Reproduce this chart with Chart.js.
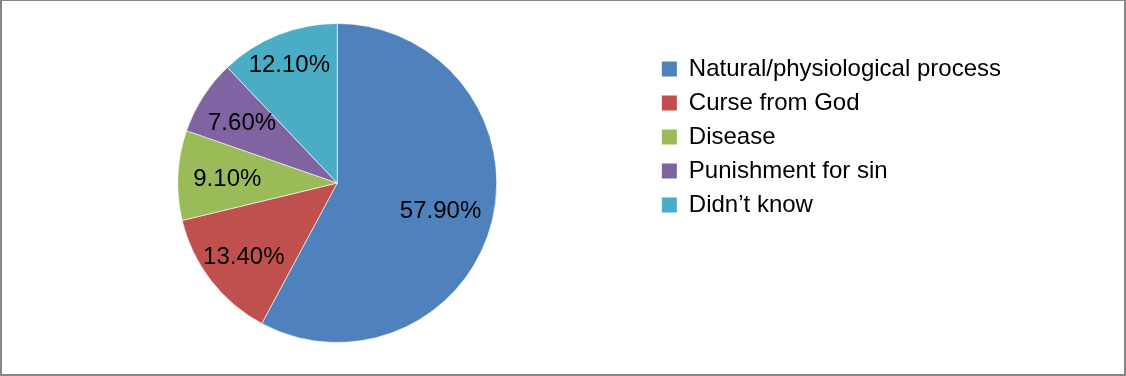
<!DOCTYPE html>
<html>
<head>
<meta charset="utf-8">
<script src="https://cdn.jsdelivr.net/npm/chart.js@4/dist/chart.umd.min.js"></script>
<style>
  html, body { margin: 0; padding: 0; background: #fff; }
  #wrap { position: relative; width: 1126px; height: 376px; overflow: hidden; }
  #pie { position: absolute; left: 0; top: 0; }
  #frame {
    position: absolute; left: 0; top: 0; width: 1126px; height: 376px;
    box-sizing: border-box; pointer-events: none;
    border: 2px solid #868686; border-top-width: 1px;
  }
</style>
</head>
<body>
<div id="wrap">
  <canvas id="pie" width="1126" height="376"></canvas>
  <div id="frame"></div>
</div>
<script>
// data
const labels = ["Natural/physiological process", "Curse from God", "Disease", "Punishment for sin", "Didn\u2019t know"];
const shares = [57.9, 13.4, 9.1, 7.6, 12.1];
const colors = ["#4F81BD", "#C0504D", "#9BBB59", "#8064A2", "#4BACC6"];

const FONT = "'Liberation Sans', Arial, sans-serif";

// percent labels inside the slices, at a fraction of the radius along the mid angle
const sliceLabels = {
  id: "sliceLabels",
  afterDatasetsDraw(chart, args, opts) {
    const ctx = chart.ctx;
    const meta = chart.getDatasetMeta(0);
    ctx.save();
    ctx.font = `24px ${FONT}`;
    ctx.fillStyle = "#000";
    ctx.textAlign = "center";
    ctx.textBaseline = "middle";
    meta.data.forEach((arc, i) => {
      const p = arc.getProps(["x", "y", "startAngle", "endAngle", "outerRadius"], true);
      const mid = (p.startAngle + p.endAngle) / 2;
      const r = p.outerRadius * (opts.radius[i] ?? 0.7);
      const v = chart.data.datasets[0].data[i];
      ctx.fillText(v.toFixed(2) + "%", p.x + Math.cos(mid) * r, p.y + Math.sin(mid) * r + 2);
    });
    ctx.restore();
  }
};

const baseLabels = Chart.overrides.pie.plugins.legend.labels.generateLabels;

new Chart(document.getElementById("pie"), {
  type: "pie",
  data: {
    labels: labels,
    datasets: [{
      data: shares,
      backgroundColor: colors,
      borderColor: "rgba(255,255,255,0.6)",
      borderWidth: 1
    }]
  },
  options: {
    responsive: false,
    animation: false,
    devicePixelRatio: 1,
    layout: { padding: { left: 22.6, right: 115, top: 23, bottom: 33 } },
    plugins: {
      tooltip: { enabled: false },
      sliceLabels: { radius: [0.668, 0.74, 0.69, 0.71, 0.81] },
      legend: {
        position: "right",
        align: "start",
        title: { display: true, text: "", font: { size: 1 }, padding: { top: 22.8, bottom: 0 } },
        labels: {
          boxWidth: 15,
          boxHeight: 15,
          padding: 10,
          color: "#000",
          font: { family: FONT, size: 24 },
          generateLabels(chart) {
            return baseLabels(chart).map(it => Object.assign(it, { lineWidth: 0, strokeStyle: "rgba(0,0,0,0)" }));
          }
        }
      }
    }
  },
  plugins: [sliceLabels]
});
</script>
</body>
</html>
